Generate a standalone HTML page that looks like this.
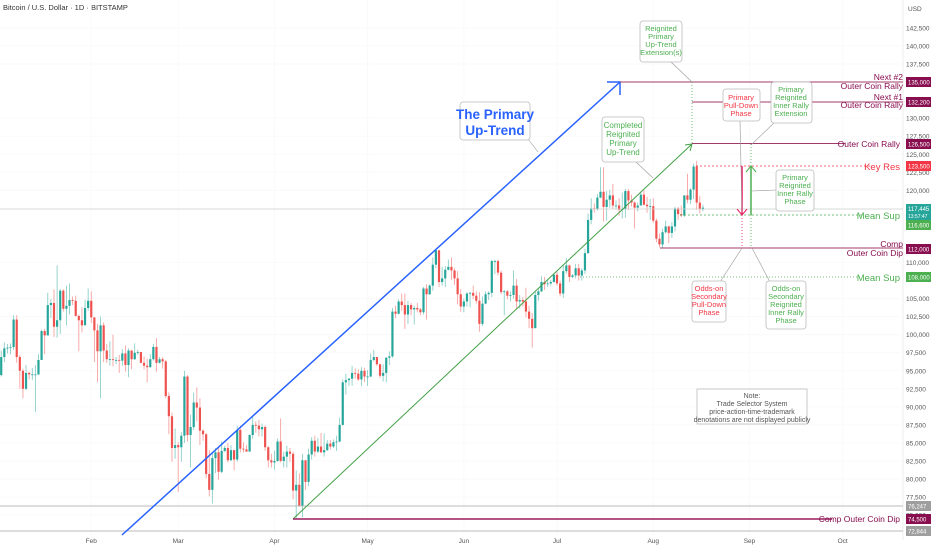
<!DOCTYPE html>
<html><head><meta charset="utf-8"><style>
html,body{margin:0;padding:0;background:#fff;}
svg{display:block;font-family:"Liberation Sans",sans-serif;}
</style></head><body>
<svg id="chart" width="932" height="550" viewBox="0 0 932 550" xmlns="http://www.w3.org/2000/svg">
<rect x="0" y="0" width="932" height="550" fill="#fff"/>
<text x="3" y="10" font-size="7.5" fill="#333">Bitcoin / U.S. Dollar · 1D · BITSTAMP</text>
<text x="908" y="11" font-size="6.5" fill="#555">USD</text>
<line x1="903" y1="0" x2="903" y2="540" stroke="#eee"/>
<g id="grid"></g>
<g id="ticks"></g>
<g id="candles"></g>
<g id="annot"></g>
</svg>
<script>
const closes=[94.4,96.9,98.1,98.2,98.3,102.1,96.9,95.0,92.5,94.7,94.5,94.5,94.5,96.5,100.5,99.9,104.1,104.4,101.1,102.0,106.1,103.6,104.0,104.8,104.7,102.6,102.0,101.3,103.7,104.7,102.4,
100.6,97.7,101.3,97.8,96.6,96.6,96.5,96.5,96.4,97.4,95.8,97.8,96.6,97.5,97.6,96.1,95.7,95.5,96.6,98.3,96.1,96.6,96.3,91.5,88.7,84.3,84.7,84.4,
86.0,94.2,86.1,87.2,90.6,89.9,86.7,86.2,80.7,78.5,82.9,83.7,81.0,83.9,84.3,82.6,84.0,82.7,86.8,84.2,84.1,83.8,86.1,87.5,87.4,86.9,87.2,84.4,82.6,82.3,82.5,
85.2,82.5,83.1,83.8,83.5,78.4,79.2,76.3,82.6,79.6,83.4,85.3,83.8,84.5,83.7,84.0,84.9,84.5,85.1,85.2,87.5,93.4,93.7,93.9,94.7,94.6,93.8,95.0,94.2,94.2,
96.5,96.9,95.9,94.3,94.7,96.8,97.0,103.2,102.9,104.6,104.1,102.8,104.1,103.5,103.7,103.5,103.1,106.4,105.6,106.8,109.7,111.7,107.3,107.8,109.0,109.4,108.9,107.8,105.6,103.9,104.6,
105.7,105.8,105.4,104.7,101.5,104.3,105.6,105.8,110.2,110.2,108.6,105.9,106.0,105.4,105.5,106.8,104.6,104.8,104.6,103.2,102.2,100.9,105.5,106.0,107.3,107.0,107.1,107.3,108.3,107.1,
105.7,108.8,109.6,108.0,108.2,109.2,108.2,108.9,111.3,115.9,117.5,117.4,119.0,119.8,117.7,118.7,119.3,117.9,117.9,117.3,117.4,119.9,118.6,118.3,117.6,117.9,119.4,118.0,117.8,117.8,115.8,
113.3,112.5,114.2,115.0,114.1,115.0,117.5,116.7,116.5,119.3,118.7,120.1,123.3,118.3,117.4,117.6];
const highs=[94.9,97.8,98.9,98.7,98.8,102.7,102.7,97.2,95.3,95.8,94.9,95.4,95.8,97.3,100.7,100.8,105.8,104.9,106.3,109.6,106.3,106.3,106.8,107.1,105.3,105.4,102.8,103.8,104.8,106.4,106.0,
102.0,101.5,102.5,101.7,98.7,99.1,100.0,96.9,97.2,98.0,98.5,98.1,97.9,98.8,97.9,97.6,97.0,96.7,97.3,98.7,99.5,96.9,96.9,96.5,92.0,89.2,87.0,85.1,
86.5,95.0,94.4,88.9,92.0,92.7,91.2,86.9,86.4,84.0,83.6,84.3,84.3,85.2,84.6,85.0,84.7,84.0,87.4,87.4,85.1,84.7,86.2,88.7,88.0,88.2,87.7,87.4,84.6,83.5,83.9,
85.6,88.4,83.8,84.6,84.3,83.8,81.2,80.8,83.5,82.6,84.2,85.8,86.0,85.7,86.4,86.3,85.4,85.4,85.5,86.0,88.5,93.8,94.6,94.0,95.7,95.3,95.2,95.5,95.4,95.1,
97.4,97.9,96.9,96.0,95.9,96.9,97.7,103.7,104.0,104.9,105.7,105.7,104.7,104.4,104.0,104.4,103.7,106.6,107.0,107.0,110.7,111.9,111.7,109.4,109.5,110.4,110.7,109.2,108.8,106.3,105.0,
105.9,105.9,106.8,106.0,105.9,105.3,106.0,106.0,110.4,110.4,110.4,108.9,106.2,106.2,106.0,108.9,107.7,105.5,105.2,106.5,104.0,103.0,106.0,106.3,108.1,108.0,107.7,107.6,108.5,108.7,
107.5,109.7,110.6,109.7,108.4,109.8,109.8,109.2,111.9,116.8,118.9,118.2,119.5,123.2,123.2,119.9,120.1,120.9,118.6,118.9,119.7,120.2,120.2,119.4,118.5,118.3,119.8,120.0,119.1,118.8,118.9,
116.1,114.0,114.7,115.8,115.1,115.6,117.7,117.7,117.9,119.3,122.3,120.3,123.7,124.1,119.2,118.0];
const lows=[92.7,94.2,96.2,97.4,97.3,97.9,96.1,92.5,91.2,92.3,93.8,93.7,89.3,94.4,96.5,97.3,99.9,102.3,99.7,99.6,100.1,103.2,101.3,102.8,104.1,102.5,97.7,100.3,101.3,103.3,101.6,
96.2,93.4,91.2,96.2,96.1,95.7,95.6,95.9,94.7,95.7,94.9,94.1,95.2,96.5,97.2,96.0,95.2,93.4,95.4,96.4,94.9,96.0,95.3,91.2,86.2,82.4,82.8,78.2,
82.4,85.0,85.2,81.6,86.8,88.0,84.7,85.3,80.1,77.6,76.6,80.8,79.9,80.8,83.7,82.3,82.5,81.2,82.4,83.7,83.7,83.8,83.8,85.6,86.4,85.9,85.9,83.9,81.6,81.6,81.3,
82.4,82.3,81.6,81.6,82.4,77.2,74.6,76.2,74.7,78.5,79.0,82.7,83.1,83.6,83.6,83.1,83.9,84.1,84.3,83.9,85.1,87.4,91.7,92.9,92.9,93.9,93.6,92.9,93.4,92.9,
94.1,96.3,95.7,94.0,93.5,93.4,95.8,96.8,102.3,102.8,103.3,100.8,101.5,102.7,101.4,103.1,102.7,102.8,102.1,105.5,106.1,109.2,106.6,106.8,106.6,108.9,107.6,106.9,104.2,103.2,103.1,
103.9,103.8,104.9,104.3,100.4,101.2,104.2,104.8,105.2,108.4,108.2,105.6,102.7,104.9,104.6,105.0,103.5,103.6,103.9,102.4,100.9,98.2,100.9,104.7,105.9,106.2,106.6,106.8,107.2,106.8,
105.3,105.1,108.5,107.3,107.8,107.8,107.5,107.5,108.4,111.2,115.3,116.9,117.2,118.9,115.7,115.8,117.6,117.4,117.4,116.5,116.1,116.2,117.3,117.8,114.7,117.1,117.9,117.9,116.9,115.9,115.5,
112.8,112.1,112.0,114.0,112.7,113.4,114.3,115.9,116.3,116.3,118.2,118.1,118.8,117.3,116.8,117.1];
const firstOpen=93.4;
const priceTicks=[142.5,140,137.5,130,127.5,125,122.5,120,110,105,102.5,100,97.5,95,92.5,90,87.5,85,82.5,80,77.5,75];
const monthLabels=["Feb","Mar","Apr","May","Jun","Jul","Aug","Sep","Oct"];
const monthDays=[31,59,90,120,151,181,212,243,273];

const NS="http://www.w3.org/2000/svg";
function X(d){return -5+d*3.105;}
function Y(p){return 46+(140-p)*7.217;}
function mk(parent,tag,attrs){const e=document.createElementNS(NS,tag);for(const k in attrs)e.setAttribute(k,attrs[k]);document.getElementById(parent).appendChild(e);return e;}

priceTicks.forEach(function(p){
  const t=mk('ticks','text',{x:906,y:Y(p)+2.5,'font-size':6.5,fill:'#555'});
  
  
  t.textContent=(p*1000).toLocaleString('en-US');
  const g=mk('grid','line',{x1:0,x2:903,y1:Y(p),y2:Y(p),stroke:'#fafafa'});
  
  
});
monthLabels.forEach(function(m,i){
  const t=mk('ticks','text',{x:X(monthDays[i]),y:543,'font-size':6.5,fill:'#555','text-anchor':'middle'});
  
  
  t.textContent=m;
  const g=mk('grid','line',{x1:X(monthDays[i]),x2:X(monthDays[i]),y1:0,y2:535,stroke:'#fafafa'});
  
  
});

closes.forEach(function(c,i){
  const o=i===0?firstOpen:closes[i-1];
  const up=c>=o, col=up?'#26a69a':'#ef5350';
  const x=X(i+1);
  const w=mk('candles','line',{x1:x,x2:x,y1:Y(highs[i]),y2:Y(lows[i]),stroke:col,'stroke-width':0.8,opacity:0.6});
  
  
  const top=Y(Math.max(o,c)), h=Math.max(0.8,Math.abs(Y(o)-Y(c)));
  const b=mk('candles','rect',{x:x-1.1,y:top,width:2.2,height:h,fill:col});
  
  
});
</script>
<script>
const A=document.getElementById('annot');
A.innerHTML=`
<line x1="0" x2="903" y1="209" y2="209" stroke="#ccc" stroke-width="0.8"/>
<line x1="0" x2="903" y1="506" y2="506" stroke="#bbb" stroke-width="1"/>
<line x1="0" x2="903" y1="531" y2="531" stroke="#bbb" stroke-width="1"/>
<line x1="122" y1="535" x2="620" y2="82" stroke="#2962ff" stroke-width="1.5"/>
<polyline points="607,82 620,82 620,95" fill="none" stroke="#2962ff" stroke-width="1.5"/>
<line x1="293" y1="519" x2="692" y2="144" stroke="#43a047" stroke-width="1"/>
<polyline points="685,145 692,144 690,151" fill="none" stroke="#43a047" stroke-width="1"/>
<line x1="620" x2="903" y1="82" y2="82" stroke="#a23b6b" stroke-width="1"/>
<line x1="692" x2="903" y1="102" y2="102" stroke="#a23b6b" stroke-width="1"/>
<line x1="692" x2="845" y1="143.5" y2="143.5" stroke="#a23b6b" stroke-width="1"/>
<line x1="660" x2="903" y1="248" y2="248" stroke="#a23b6b" stroke-width="1"/>
<line x1="293" x2="832" y1="519" y2="519" stroke="#9c1c5b" stroke-width="1.5"/>
<line x1="696" x2="872" y1="166" y2="166" stroke="#f23645" stroke-width="0.8" stroke-dasharray="2,2"/>
<line x1="680" x2="862" y1="215" y2="215" stroke="#4caf50" stroke-width="0.8" stroke-dasharray="2,2"/>
<line x1="580" x2="862" y1="277" y2="277" stroke="#4caf50" stroke-width="0.8" stroke-dasharray="1,2"/>
<line x1="692" x2="692" y1="82" y2="144" stroke="#4caf50" stroke-width="0.8" stroke-dasharray="1,2"/>
<line x1="742" x2="742" y1="166" y2="215" stroke="#e91e63" stroke-width="1.5"/>
<polyline points="737,209 742,215 747,209" fill="none" stroke="#e91e63" stroke-width="1"/>
<line x1="742" x2="742" y1="215" y2="248" stroke="#e91e63" stroke-width="0.8" stroke-dasharray="1,2"/>
<line x1="751" x2="751" y1="215" y2="166" stroke="#4caf50" stroke-width="1.5"/>
<polyline points="746,172 751,166 756,172" fill="none" stroke="#4caf50" stroke-width="1"/>
<line x1="751" x2="751" y1="144" y2="166" stroke="#4caf50" stroke-width="0.8" stroke-dasharray="1,2"/>
<line x1="751" x2="751" y1="215" y2="248" stroke="#4caf50" stroke-width="0.8" stroke-dasharray="1,2"/>

<g font-size="7.5" text-anchor="middle">
<line x1="670" y1="61" x2="692" y2="82" stroke="#999" stroke-width="0.6"/>
<rect x="640" y="21" width="42" height="41" rx="3" fill="#fff" stroke="#bbb" stroke-width="0.8"/>
<text fill="#4caf50"><tspan x="661" y="31">Reignited</tspan><tspan x="661" y="39">Primary</tspan><tspan x="661" y="47">Up-Trend</tspan><tspan x="661" y="55">Extension(s)</tspan></text>

<line x1="636" y1="162" x2="653" y2="178" stroke="#999" stroke-width="0.6"/>
<rect x="602" y="117" width="42" height="45" rx="3" fill="#fff" stroke="#bbb" stroke-width="0.8"/>
<text fill="#4caf50" font-size="8"><tspan x="623" y="128">Completed</tspan><tspan x="623" y="137">Reignited</tspan><tspan x="623" y="146">Primary</tspan><tspan x="623" y="155">Up-Trend</tspan></text>

<line x1="740" y1="121" x2="742" y2="212" stroke="#999" stroke-width="0.6"/>
<rect x="723" y="89" width="37" height="32" rx="3" fill="#fff" stroke="#bbb" stroke-width="0.8"/>
<text fill="#f23645"><tspan x="741" y="100">Primary</tspan><tspan x="741" y="108">Pull-Down</tspan><tspan x="741" y="116">Phase</tspan></text>

<line x1="775" y1="122" x2="751" y2="145" stroke="#999" stroke-width="0.6"/>
<rect x="771" y="82" width="41" height="41" rx="3" fill="#fff" stroke="#bbb" stroke-width="0.8"/>
<text fill="#4caf50"><tspan x="791" y="92">Primary</tspan><tspan x="791" y="100">Reignited</tspan><tspan x="791" y="108">Inner Rally</tspan><tspan x="791" y="116">Extension</tspan></text>

<line x1="776" y1="190" x2="752" y2="191" stroke="#999" stroke-width="0.6"/>
<rect x="776" y="170" width="38" height="41" rx="3" fill="#fff" stroke="#bbb" stroke-width="0.8"/>
<text fill="#4caf50"><tspan x="795" y="180">Primary</tspan><tspan x="795" y="188">Reignited</tspan><tspan x="795" y="196">Inner Rally</tspan><tspan x="795" y="204">Phase</tspan></text>

<line x1="720" y1="282" x2="742" y2="248" stroke="#999" stroke-width="0.6"/>
<rect x="692" y="281" width="34" height="41" rx="3" fill="#fff" stroke="#bbb" stroke-width="0.8"/>
<text fill="#f23645"><tspan x="709" y="291">Odds-on</tspan><tspan x="709" y="299">Secondary</tspan><tspan x="709" y="307">Pull-Down</tspan><tspan x="709" y="315">Phase</tspan></text>

<line x1="770" y1="282" x2="752" y2="248" stroke="#999" stroke-width="0.6"/>
<rect x="766" y="281" width="40" height="48" rx="3" fill="#fff" stroke="#bbb" stroke-width="0.8"/>
<text fill="#4caf50"><tspan x="786" y="291">Odds-on</tspan><tspan x="786" y="299">Secondary</tspan><tspan x="786" y="307">Reignited</tspan><tspan x="786" y="315">Inner Rally</tspan><tspan x="786" y="323">Phase</tspan></text>

<line x1="528" y1="139" x2="538" y2="152" stroke="#999" stroke-width="0.6"/>
<rect x="460" y="102" width="70" height="38" rx="3" fill="#fff" stroke="#bbb" stroke-width="0.8"/>
<text fill="#2962ff" font-size="13.5" font-weight="bold"><tspan x="495" y="119">The Primary</tspan><tspan x="495" y="135">Up-Trend</tspan></text>

<rect x="697" y="389" width="110" height="35" fill="#fff" stroke="#bbb" stroke-width="0.8"/>
<text fill="#555" font-size="7"><tspan x="752" y="398">Note:</tspan><tspan x="752" y="406">Trade Selector System</tspan><tspan x="752" y="414">price-action-time-trademark</tspan><tspan x="752" y="422">denotations are not displayed publicly</tspan></text>
</g>

<g font-size="8.5" text-anchor="end" fill="#880e4f">
<text x="903" y="80">Next #2</text>
<text x="903" y="89">Outer Coin Rally</text>
<text x="903" y="100">Next #1</text>
<text x="903" y="108">Outer Coin Rally</text>
<text x="900" y="147">Outer Coin Rally</text>
<text x="900" y="170" fill="#f23645" font-size="9.5">Key Res</text>
<text x="900" y="219" fill="#4caf50" font-size="9.5">Mean Sup</text>
<text x="903" y="247">Comp</text>
<text x="903" y="256">Outer Coin Dip</text>
<text x="900" y="281" fill="#4caf50" font-size="9.5">Mean Sup</text>
<text x="900" y="522">Comp Outer Coin Dip</text>
</g>

<g font-size="6" fill="#fff">
<rect x="906" y="77" width="25" height="10" fill="#880e4f"/><text x="908" y="84.5">135,000</text>
<rect x="906" y="97" width="25" height="10" fill="#880e4f"/><text x="908" y="104.5">132,200</text>
<rect x="906" y="139" width="25" height="10" fill="#880e4f"/><text x="908" y="146.5">126,500</text>
<rect x="906" y="161" width="25" height="10" fill="#f23645"/><text x="908" y="168.5">123,500</text>
<rect x="906" y="204" width="25" height="16" fill="#26a69a"/><text x="908" y="211">117,445</text><text x="908" y="218" font-size="5">13:57:47</text>
<rect x="906" y="220" width="25" height="10" fill="#4caf50"/><text x="908" y="227.5">116,600</text>
<rect x="906" y="244" width="25" height="10" fill="#880e4f"/><text x="908" y="251.5">112,000</text>
<rect x="906" y="272" width="25" height="10" fill="#4caf50"/><text x="908" y="279.5">108,000</text>
<rect x="906" y="501" width="25" height="10" fill="#9e9e9e"/><text x="908" y="508.5">76,247</text>
<rect x="906" y="514" width="25" height="10" fill="#880e4f"/><text x="908" y="521.5">74,500</text>
<rect x="906" y="526" width="25" height="10" fill="#9e9e9e"/><text x="908" y="533.5">72,844</text>
</g>`;
</script>
</body></html>
